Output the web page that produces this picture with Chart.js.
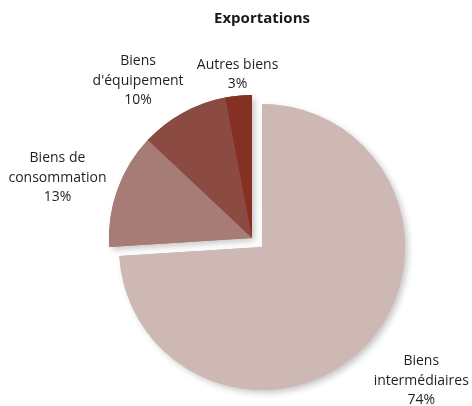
<!DOCTYPE html>
<html lang="fr">
<head>
<meta charset="utf-8">
<title>Exportations</title>
<script src="https://cdn.jsdelivr.net/npm/chart.js@4"></script>
<style>
  html, body { margin: 0; padding: 0; background: #fff; }
  #wrap { width: 472px; height: 406px; }
</style>
</head>
<body>
<div id="wrap"><canvas id="pieChart" width="472" height="406"></canvas></div>
<script>
// ================= DATA =================
const categories = [
  ["Biens", "intermédiaires"],
  ["Biens de", "consommation"],
  ["Biens", "d'équipement"],
  ["Autres biens"],
];
const shares = [74, 13, 10, 3];
const colors = ["#cdb8b4", "#a77c77", "#8c4b42", "#843123"];

// label box nudges from each slice's outer midpoint
const labelNudge = [
  { dx: 55, dy: 36 },
  { dx: -60, dy: -12 },
  { dx: -45, dy: -32 },
  { dx: -1, dy: -21 },
];

// the three small slices are pulled out together
const groupShift = { dx: -10, dy: -9 };

// ================= PLUGINS =================
const groupedArcs = {
  id: "groupedArcs",
  beforeDatasetsDraw(chart) {
    const ctx = chart.ctx;
    const arcs = chart.getDatasetMeta(0).data;

    const drawAll = (withShadow) => {
      arcs.forEach((arc, i) => {
        ctx.save();
        if (i > 0) ctx.translate(groupShift.dx, groupShift.dy);
        if (withShadow) {
          ctx.shadowColor = "rgba(0,0,0,0.22)";
          ctx.shadowBlur = 6;
          ctx.shadowOffsetX = 3;
          ctx.shadowOffsetY = 3;
        }
        arc.draw(ctx);
        ctx.restore();
      });
    };

    drawAll(true);   // soft drop shadow
    drawAll(false);  // clean fills on top
    return false;
  },
};

const sliceLabels = {
  id: "sliceLabels",
  afterDraw(chart) {
    const ctx = chart.ctx;
    const arcs = chart.getDatasetMeta(0).data;

    ctx.save();
    ctx.font = "14px 'Open Sans'";
    ctx.fillStyle = "#1f1f1f";
    ctx.textAlign = "center";
    ctx.textBaseline = "middle";

    arcs.forEach((arc, i) => {
      const { x, y, startAngle, endAngle, outerRadius } = arc.getProps(
        ["x", "y", "startAngle", "endAngle", "outerRadius"], true);
      const mid = (startAngle + endAngle) / 2;
      let px = x + Math.cos(mid) * outerRadius + labelNudge[i].dx;
      let py = y + Math.sin(mid) * outerRadius + labelNudge[i].dy;
      if (i > 0) { px += groupShift.dx; py += groupShift.dy; }

      const lines = [...categories[i], shares[i] + "%"];
      const lh = 19.5;
      const top = py - (lines.length - 1) * lh / 2;
      lines.forEach((t, k) => ctx.fillText(t, px, top + k * lh));
    });
    ctx.restore();
  },
};

// ================= CHART =================
const chart = new Chart(document.getElementById("pieChart"), {
  type: "pie",
  data: {
    labels: categories.map((c) => c.join(" ")),
    datasets: [
      {
        data: shares,
        backgroundColor: colors,
        borderWidth: 0,
      },
    ],
  },
  options: {
    responsive: false,
    animation: false,
    layout: { padding: { left: 119, right: 67, top: 0, bottom: 16 } },
    plugins: {
      legend: { display: false },
      tooltip: { enabled: false },
      title: {
        display: true,
        text: "Exportations",
        color: "#1a1a1a",
        font: { family: "'Open Sans'", size: 15, weight: "bold", lineHeight: 1.2 },
        padding: { top: 10, bottom: 76 },
      },
    },
  },
  plugins: [groupedArcs, sliceLabels],
});
</script>
</body>
</html>
